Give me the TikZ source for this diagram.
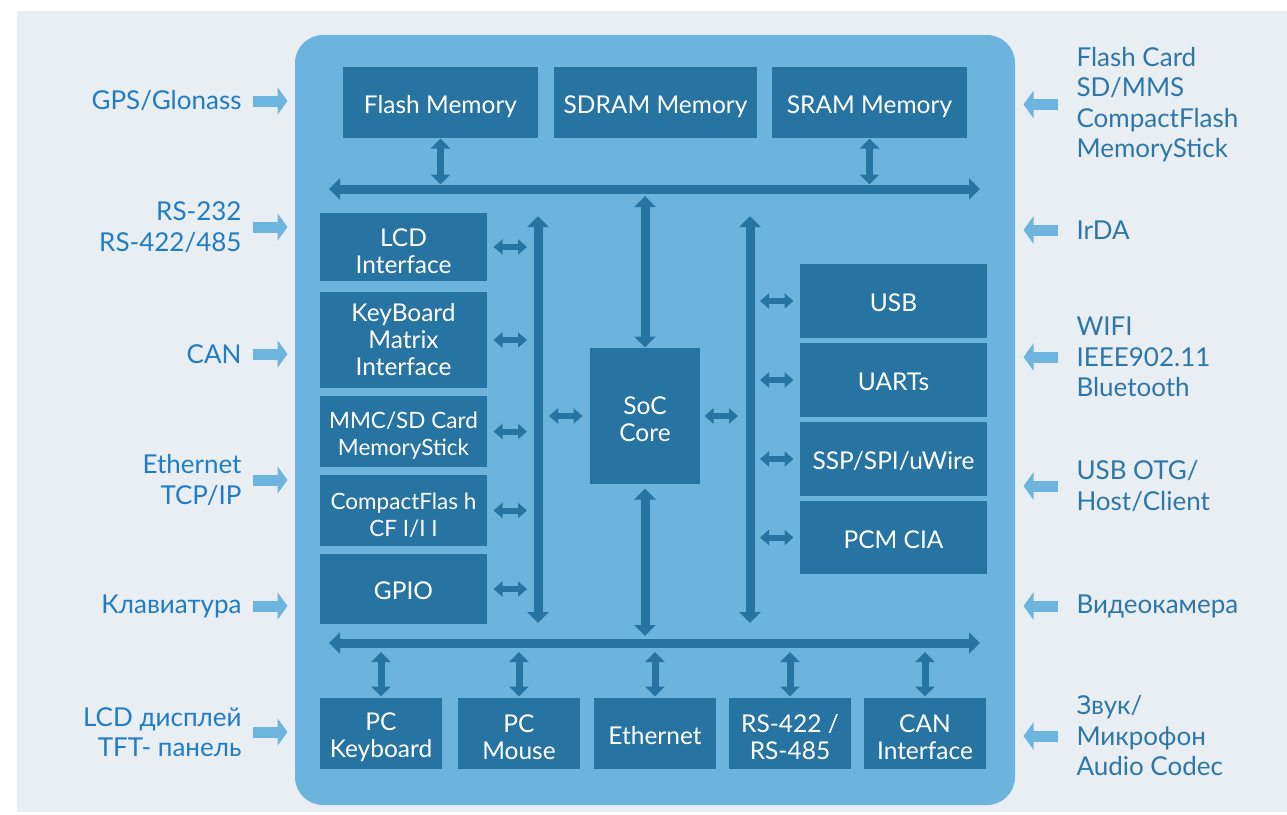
\documentclass[tikz,border=0pt]{standalone}
\usepackage{fontspec}
\setmainfont{Lato}
\usetikzlibrary{arrows.meta}
\definecolor{cbg}{HTML}{E9EEF3}
\definecolor{cboard}{HTML}{6CB4DD}
\definecolor{cbox}{HTML}{2774A3}
\definecolor{cleft}{HTML}{1F7CC5}
\definecolor{cright}{HTML}{2D77A8}
\definecolor{cext}{HTML}{6DB4DE}
\tikzset{
  every picture/.style={line width=1pt},
  board/.style={fill=cboard, rounded corners=28pt, minimum width=720pt, minimum height=770pt, inner sep=0pt},
  blk/.style={fill=cbox, text=white, align=center, inner sep=0pt, font=\fontsize{24.5}{27}\selectfont,
    execute at begin node={\rule{0pt}{27.5pt}}, execute at end node={\rule[-6pt]{0pt}{6pt}}},
  tdown/.style={execute at begin node={\rule{0pt}{#1}}},
  tdown/.default=58pt,
  bus/.style={{Triangle[width=21pt,length=11pt]}-{Triangle[width=21pt,length=11pt]}, draw=cbox, line width=9pt},
  link/.style={{Triangle[width=15pt,length=9pt]}-{Triangle[width=15pt,length=9pt]}, draw=cbox, line width=6pt},
  vlink/.style={{Triangle[width=19pt,length=10pt]}-{Triangle[width=19pt,length=10pt]}, draw=cbox, line width=7pt},
  ext/.style={-{Triangle[width=27pt,length=10pt]}, draw=cext, line width=11pt},
  lbl/.style={inner sep=0pt, font=\fontsize{26}{30.5}\selectfont},
}

\begin{document}
\begin{tikzpicture}[x=1pt, y=-1pt,
  top/.style={blk, minimum width=#1, minimum height=71pt},
  lft/.style={blk, minimum width=167pt, minimum height=#1},
  rgt/.style={blk, minimum width=187pt, minimum height=#1},
  bot/.style={blk, minimum width=122pt, minimum height=71pt},
  lin/.style={lbl, text=cleft, anchor=east, align=right},
  rin/.style={lbl, text=cright, anchor=west, align=left}]
  \useasboundingbox (0,0) rectangle (1287,814);
  \fill[cbg] (17,11) rectangle (1287,812);
  \node[board] (board) at (655,420) {};

  \node[top=195pt] (flash) at (440.5,102.5) {Flash Memory};
  \node[top=203pt] (sdram) at (655.5,102.5) {SDRAM Memory};
  \node[top=195pt] (sram) at (869.5,102.5) {SRAM Memory};

  \node[lft=68pt, tdown] (lcd) at (403.5,247) {LCD\\Interface};
  \node[lft=96pt, tdown=77.5pt] (kbm) at (403.5,340) {KeyBoard\\Matrix\\Interface};
  \node[lft=71pt, tdown=54pt, font=\fontsize{22.5}{27}\selectfont] (mmc) at (403.5,431.5) {MMC/SD Card\\MemoryStick};
  \node[lft=71pt, tdown, font=\fontsize{22.5}{27}\selectfont] (cf) at (403.5,510.5) {CompactFlas h\\CF I/I I};
  \node[lft=70pt] (gpio) at (403.5,589) {GPIO};

  \node[blk, tdown=56pt, minimum width=110pt, minimum height=136pt] (soc) at (645,416) {SoC\\Core};

  \node[rgt=74pt] (usb) at (893.5,301) {USB};
  \node[rgt=74pt] (uarts) at (893.5,380) {UARTs};
  \node[rgt=74pt] (ssp) at (893.5,459) {SSP/SPI/uWire};
  \node[rgt=73pt] (pcm) at (893.5,537.5) {PCM CIA};

  \node[bot, tdown=54pt] (pckb) at (381,733.5) {PC\\Keyboard};
  \node[bot, tdown] (pcms) at (519,733.5) {PC\\Mouse};
  \node[bot] (eth) at (655,733.5) {Ethernet};
  \node[bot, tdown] (rs) at (790,733.5) {RS-422 /\\RS-485};
  \node[bot, tdown] (can) at (925,733.5) {CAN\\Interface};

  \coordinate (tbw) at (329,189); \coordinate (tbe) at (980,189);
  \coordinate (bbw) at (329,643); \coordinate (bbe) at (980,643);
  \coordinate (lbn) at (538,216); \coordinate (lbs) at (538,623);
  \coordinate (rbn) at (750,216); \coordinate (rbs) at (750,623);

  \draw[bus] (tbw) -- (tbe);
  \draw[bus] (bbw) -- (bbe);
  \draw[bus] (lbn) -- (lbs);
  \draw[bus] (rbn) -- (rbs);
  \draw[bus, shorten <=7pt] (tbw -| soc.north) -- (soc.north);
  \draw[bus, shorten <=4pt, shorten >=7pt] (soc.south) -- (soc.south |- bbw);

  \foreach \n in {lcd,kbm,mmc,cf,gpio} \draw[link, shorten <=6pt, shorten >=11pt] (\n.east) -- (\n.east -| lbn);
  \foreach \n in {usb,uarts,ssp,pcm} \draw[link, shorten <=10pt, shorten >=6pt] (\n.west -| rbn) -- (\n.west);
  \draw[link, shorten <=11pt, shorten >=7pt] (soc.west -| lbn) -- (soc.west);
  \draw[link, shorten <=4pt, shorten >=12pt] (soc.east) -- (soc.east -| rbn);
  \foreach \n in {flash,sram} \draw[vlink, shorten >=4.5pt] (\n.south) -- (\n.south |- tbw);
  \foreach \n in {pckb,pcms,eth,rs,can} \draw[vlink, shorten <=9pt, shorten >=1pt] (\n.north |- bbw) -- (\n.north);

  \node[lin] (gps) at (242,101) {GPS/Glonass};
  \node[lin] (rsx) at (242,227) {RS-232\\RS-422/485};
  \node[lin] (canx) at (242,354) {CAN};
  \node[lin] (ethx) at (242,480) {Ethernet\\TCP/IP};
  \node[lin] (klav) at (242,606) {Клавиатура};
  \node[lin] (lcdx) at (242,732) {LCD дисплей\\TFT- панель};
  \foreach \n in {gps,rsx,canx,ethx,klav,lcdx} \draw[ext, shorten >=7pt] ([xshift=11pt]\n.east) -- (\n.east -| board.west);

  \node[rin] (fcard) at (1076,104.5) {Flash Card\\SD/MMS\\CompactFlash\\MemoryStick};
  \node[rin] (irda) at (1076,230) {IrDA};
  \node[rin] (wifi) at (1076,357) {WIFI\\IEEE902.11\\Bluetooth};
  \node[rin] (otg) at (1076,486) {USB OTG/\\Host/Client};
  \node[rin] (cam) at (1076,606) {Видеокамера};
  \node[rin] (snd) at (1076,736) {Звук/\\Микрофон\\Audio Codec};
  \foreach \n in {fcard,irda,wifi,otg,cam,snd} \draw[ext, shorten >=8pt] ([xshift=-18pt]\n.west) -- (\n.west -| board.east);
\end{tikzpicture}
\end{document}
